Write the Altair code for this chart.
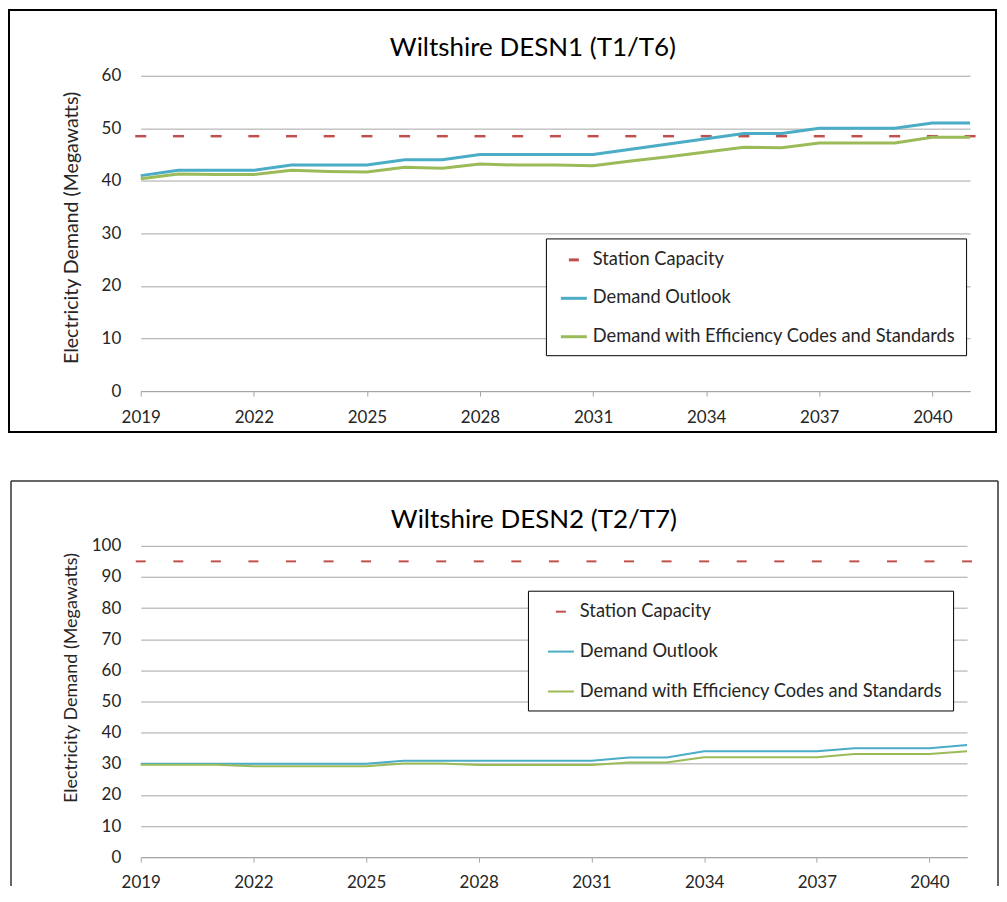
import altair as alt
import pandas as pd

# ---------------- data ----------------
years = list(range(2019, 2042))
x_tick_years = [2019, 2022, 2025, 2028, 2031, 2034, 2037, 2040]

series_names = ["Station Capacity", "Demand Outlook",
                "Demand with Efficiency Codes and Standards"]
series_colors = ["#C0504D", "#4BACC6", "#9BBB59"]
y_axis_title = "Electricity Demand (Megawatts)"

title_1 = "Wiltshire DESN1 (T1/T6)"
capacity_1 = 48.5
outlook_1 = [41, 42, 42, 42, 43, 43, 43, 44, 44, 45, 45, 45, 45,
             46, 47, 48, 49, 49, 50, 50, 50, 51, 51]
efficiency_1 = [40.4, 41.3, 41.2, 41.2, 42.0, 41.8, 41.7, 42.6, 42.4, 43.2,
                43.0, 43.0, 42.9, 43.8, 44.6, 45.5, 46.4, 46.3, 47.2, 47.2,
                47.2, 48.3, 48.3]
y_ticks_1 = [0, 10, 20, 30, 40, 50, 60]

title_2 = "Wiltshire DESN2 (T2/T7)"
capacity_2 = 95
outlook_2 = [30, 30, 30, 30, 30, 30, 30, 31, 31, 31, 31, 31, 31,
             32, 32, 34, 34, 34, 34, 35, 35, 35, 36]
efficiency_2 = [29.7, 29.7, 29.7, 29.2, 29.2, 29.2, 29.2, 30.1, 30.1, 29.6,
                29.6, 29.6, 29.6, 30.4, 30.4, 32.1, 32.1, 32.1, 32.1, 33.1,
                33.1, 33.1, 34.0]
y_ticks_2 = [0, 10, 20, 30, 40, 50, 60, 70, 80, 90, 100]

# ---------------- style ----------------
FONT = "Lato"
GRID = "#A6A6A6"
TEXT = "#262626"
LINE_PATH = "M-1.3,0L1.3,0"
DASH_PATH = "M-0.5,0L0.5,0"


def make_panel(title, capacity, outlook, efficiency, y_ticks, g):
    df = pd.DataFrame({
        "year": years,
        "outlook": outlook,
        "efficiency": efficiency,
        "capacity": [capacity] * len(years),
    })
    W, H = g["w"], g["h"]

    x_enc = alt.X(
        "year:Q",
        scale=alt.Scale(domain=[2019, 2041], nice=False, zero=False),
        axis=alt.Axis(values=x_tick_years, format="d", title=None, grid=False,
                      domainColor=GRID, domainWidth=1, tickColor=GRID,
                      tickSize=5, labelPadding=g["xlabpad"], labelFont=FONT,
                      labelFontSize=17, labelColor=TEXT, labelFlush=False,
                      labelOverlap=False),
    )
    y_scale = alt.Scale(domain=[0, y_ticks[-1]], nice=False, zero=True)
    y_axis = alt.Axis(values=y_ticks, format="d", title=y_axis_title,
                      grid=True, gridColor=GRID, gridWidth=1, domain=False,
                      ticks=False, labelPadding=20, labelFont=FONT,
                      labelFontSize=17, labelColor=TEXT, titleFont=FONT,
                      titleFontSize=g["ytitle_size"], titleFontWeight="normal",
                      titleColor=TEXT, titleX=-69, titleY=g["ytitle_y"],
                      titleAngle=270, titleAlign="center",
                      titleBaseline="middle")

    def y_enc(field):
        return alt.Y(f"{field}:Q", scale=y_scale, axis=y_axis)

    one = alt.InlineData(values=[{"t": title}])

    layers = []
    # panel frame
    if g["full_box"]:
        layers.append(
            alt.Chart(one).mark_rect(fillOpacity=0, stroke="black",
                                     strokeWidth=g["box_w"]).encode(
                x=alt.value(g["bl"]), x2=alt.value(W + g["br"]),
                y=alt.value(g["bt"]), y2=alt.value(H + g["bb"]))
        )
    else:
        for xa, xb, ya, yb in [
            (g["bl"], g["bl"], g["bt"], H + g["bb"]),
            (W + g["br"], W + g["br"], g["bt"], H + g["bb"]),
            (g["bl"], W + g["br"], g["bt"], g["bt"]),
        ]:
            layers.append(
                alt.Chart(one).mark_rule(color=g["box_c"],
                                         strokeWidth=g["box_w"]).encode(
                    x=alt.value(xa), x2=alt.value(xb),
                    y=alt.value(ya), y2=alt.value(yb))
            )
    # title
    layers.append(
        alt.Chart(one).mark_text(font=FONT, fontSize=26, color="black",
                                 align="center", baseline="middle").encode(
            x=alt.value(g["tx"]), y=alt.value(g["ty"]), text="t:N")
    )
    # station capacity as dash markers
    layers.append(
        alt.Chart(df).mark_point(shape="stroke", size=g["dash_size"],
                                 filled=False, opacity=1,
                                 strokeWidth=g["dash_w"],
                                 color=series_colors[0]).encode(
            x=x_enc, y=y_enc("capacity"))
    )
    layers.append(
        alt.Chart(df).mark_line(color=series_colors[1],
                                strokeWidth=g["line_w"]).encode(
            x=x_enc, y=y_enc("outlook"))
    )
    layers.append(
        alt.Chart(df).mark_line(color=series_colors[2],
                                strokeWidth=g["line_w"]).encode(
            x=x_enc, y=y_enc("efficiency"))
    )
    # legend carrier
    leg = alt.Legend(orient="none", legendX=g["lx"], legendY=g["ly"],
                     title=None, fillColor="white", strokeColor="black",
                     padding=10, labelFont=FONT, labelFontSize=18.3,
                     labelColor=TEXT, labelLimit=600, symbolSize=400,
                     symbolStrokeWidth=g["line_w"], symbolOpacity=1,
                     rowPadding=g["rowpad"], labelOffset=g["loff"],
                     symbolOffset=g["soff"])
    legend_rows = alt.InlineData(values=[{"series": s} for s in series_names])
    layers.append(
        alt.Chart(legend_rows).mark_point(size=0, filled=False,
                                          strokeWidth=g["line_w"]).encode(
            color=alt.Color("series:N",
                            scale=alt.Scale(domain=series_names,
                                            range=series_colors),
                            legend=leg),
            shape=alt.Shape("series:N",
                            scale=alt.Scale(domain=series_names,
                                            range=[DASH_PATH, LINE_PATH,
                                                   LINE_PATH]),
                            legend=leg),
        )
    )
    return alt.layer(*layers).properties(width=W, height=H)


geo_1 = dict(w=831, h=316, xlabpad=13, ytitle_size=19.6, ytitle_y=152,
             full_box=True, box_w=2, box_c="black",
             bl=-132, br=26, bt=-66, bb=41, tx=393, ty=-28,
             dash_size=121, dash_w=2.5, line_w=3, lx=406, ly=163,
             rowpad=18.5, loff=7.5, soff=6.5)
geo_2 = dict(w=828, h=312, xlabpad=12, ytitle_size=18, ytitle_y=132,
             full_box=False, box_w=1.5, box_c="#333333",
             bl=-130, br=31, bt=-65, bb=29, tx=394, ty=-26,
             dash_size=100, dash_w=2, line_w=2, lx=388, ly=45,
             rowpad=20, loff=8, soff=12)

top = make_panel(title_1, capacity_1, outlook_1, efficiency_1, y_ticks_1, geo_1)
bottom = make_panel(title_2, capacity_2, outlook_2, efficiency_2, y_ticks_2, geo_2)

chart = alt.vconcat(top, bottom, spacing=47).resolve_scale(
    color="independent", shape="independent"
).resolve_legend(
    color="independent", shape="independent"
).properties(
    padding=0
).configure_view(stroke=None)

chart.save("out.html", embed_options={"renderer": "svg", "actions": False})
